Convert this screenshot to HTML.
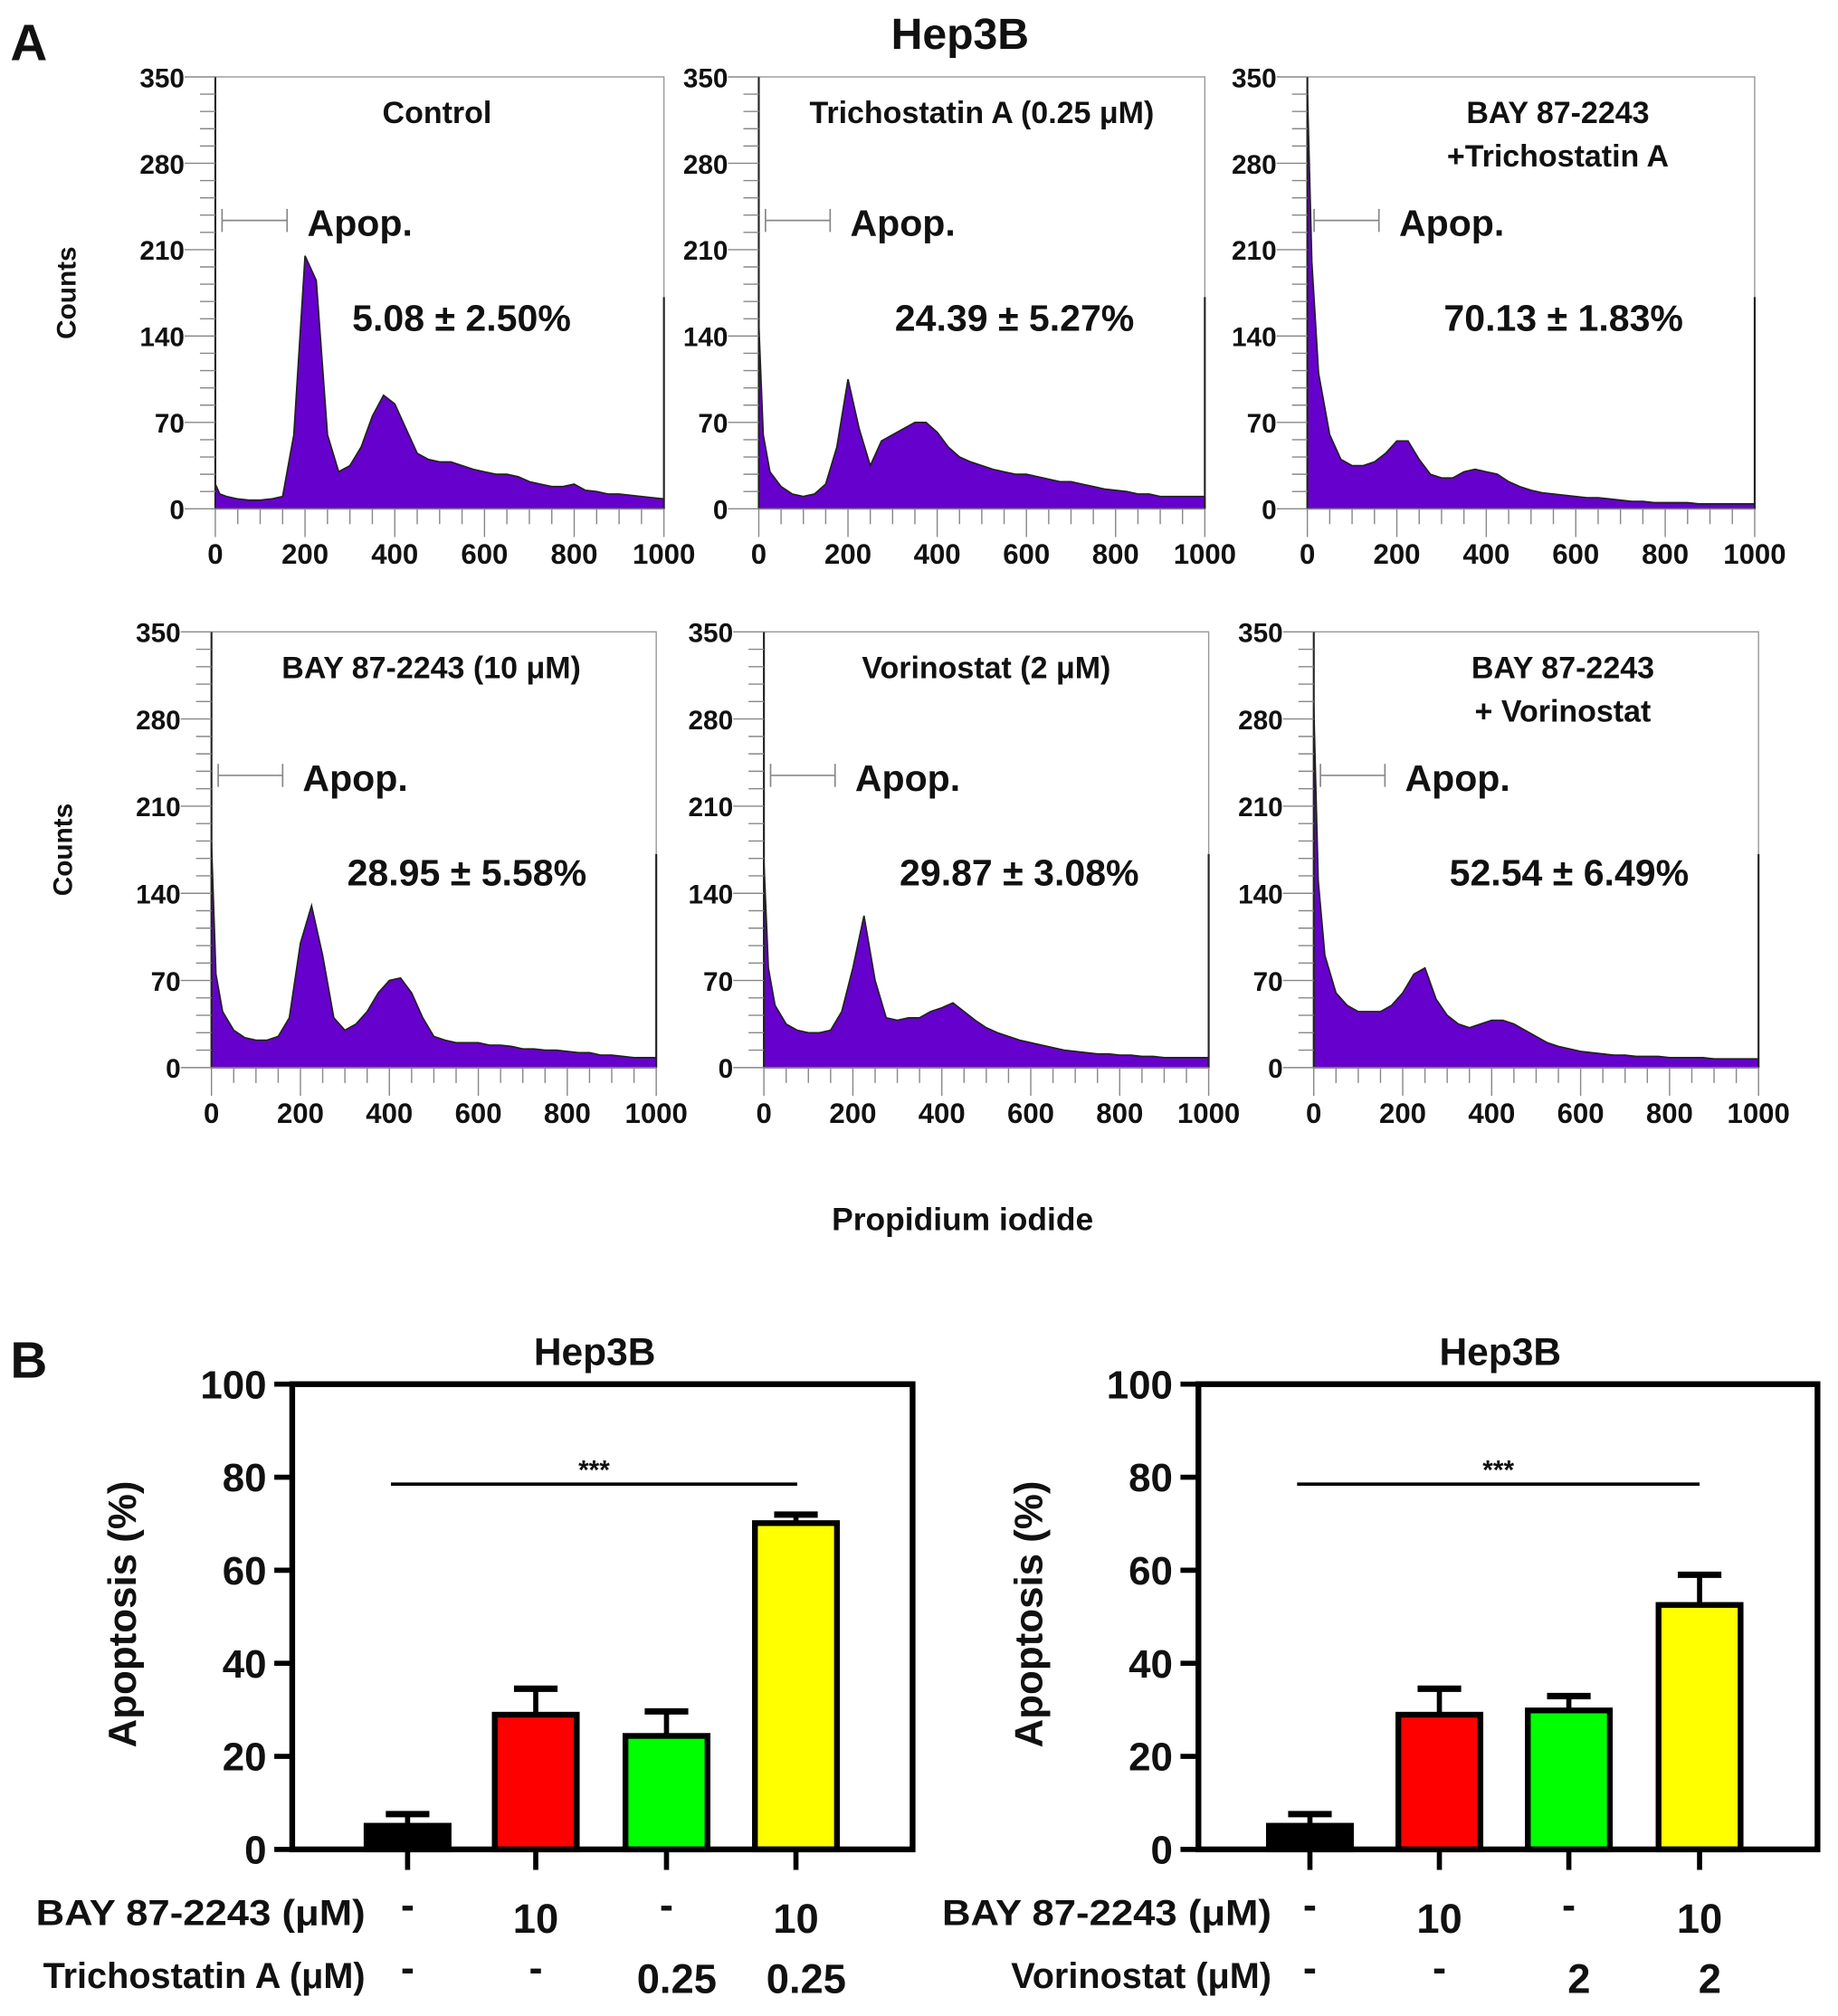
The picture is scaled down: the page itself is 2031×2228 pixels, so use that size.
<!DOCTYPE html>
<html><head><meta charset="utf-8"><style>
html,body{margin:0;padding:0;background:#fff}
svg{display:block}
text{font-family:"Liberation Sans",Arial,sans-serif;font-weight:bold;fill:#111}
</style></head><body>
<svg id="fig" width="2031" height="2228" viewBox="0 0 1434 1573" preserveAspectRatio="none">
<text x="8" y="47" font-size="40">A</text>
<text x="749" y="38" font-size="34" text-anchor="middle">Hep3B</text>
<text x="751" y="960" font-size="25" text-anchor="middle">Propidium iodide</text>
<text x="8" y="1075" font-size="40">B</text>
<g id="hists"></g>
<g id="bars"></g>
</svg>
<script>
const NS="http://www.w3.org/2000/svg";
const histX=[0,10,25,50,75,100,125,150,175,200,225,250,275,300,325,350,375,400,425,450,475,500,525,550,575,600,625,650,675,700,725,750,775,800,825,850,875,900,925,950,975,1000];
const histControl=[20,12,10,8,7,7,8,10,60,205,185,60,30,35,50,75,92,85,65,45,40,38,38,35,32,30,28,28,26,22,20,18,18,20,15,14,12,12,11,10,9,8];
const histTSA=[150,60,30,18,12,10,12,20,50,105,65,35,55,60,65,70,70,62,50,42,38,35,32,30,28,28,26,24,22,22,20,18,16,15,14,12,12,10,10,10,10,10];
const histBayTSA=[340,200,110,60,40,35,35,38,45,55,55,40,28,25,25,30,32,30,28,22,18,15,13,12,11,10,9,9,8,7,6,6,5,5,5,5,4,4,4,4,4,4];
const histBay=[180,75,45,30,24,22,22,25,40,100,130,90,40,30,35,45,60,70,72,60,40,25,22,20,20,20,18,18,17,15,15,14,14,13,12,12,10,10,9,8,8,8];
const histVor=[165,80,50,35,30,28,28,30,45,80,122,70,40,38,40,40,45,48,52,45,38,32,28,25,22,20,18,16,14,13,12,11,11,10,10,9,9,8,8,8,8,8];
const histBayVor=[290,150,90,60,50,45,45,45,50,60,75,80,55,42,35,32,35,38,38,35,30,25,20,17,15,13,12,11,10,10,9,9,9,8,8,8,8,7,7,7,7,7];
const histTitles=[["Control"],["Trichostatin A  (0.25 μM)"],["BAY 87-2243","+Trichostatin A"],["BAY 87-2243  (10 μM)"],["Vorinostat  (2 μM)"],["BAY 87-2243","+ Vorinostat"]];
const histPct=["5.08 ± 2.50%","24.39 ± 5.27%","70.13 ± 1.83%","28.95 ± 5.58%","29.87 ± 3.08%","52.54 ± 6.49%"];
const yTicks=[0,70,140,210,280,350];
const xTicks=[0,200,400,600,800,1000];
const histSeries=[histControl,histTSA,histBayTSA,histBay,histVor,histBayVor];
const panels=[{x0:168,x1:518,y0:397,y1:60},{x0:592,x1:940,y0:397,y1:60},{x0:1020,x1:1369,y0:397,y1:60},
{x0:165,x1:512,y0:833,y1:493},{x0:596,x1:943,y0:833,y1:493},{x0:1025,x1:1372,y0:833,y1:493}];
function mk(tag,attrs,parent){const e=document.createElementNS(NS,tag);for(const k in attrs)e.setAttribute(k,attrs[k]);parent.appendChild(e);return e;}
const H=document.getElementById('hists');
panels.forEach((p,i)=>{
  const g=mk('g',{},H);
  
  
  const sx=v=>p.x0+(p.x1-p.x0)*v/1000, sy=v=>p.y0-(p.y0-p.y1)*Math.min(v,350)/350;
  const box=mk('rect',{x:p.x0,y:p.y1,width:p.x1-p.x0,height:p.y0-p.y1,fill:'none',stroke:'#999','stroke-width':1},g);
  
  
  const d=histSeries[i];
  let pts=sx(0)+','+sy(0)+' ';
  histX.forEach((x,j)=>{pts+=sx(x)+','+sy(d[j])+' ';});
  pts+=sx(1000)+','+sy(0);
  const poly=mk('polygon',{points:pts,fill:'#6600cc',stroke:'#222','stroke-width':1.2},g);
  
  
  mk('line',{x1:p.x0,y1:p.y0,x2:p.x0,y2:p.y1,stroke:'#222','stroke-width':1.5},g);
  mk('line',{x1:p.x1,y1:p.y0,x2:p.x1,y2:p.y0-(p.y0-p.y1)*0.49,stroke:'#222','stroke-width':1.5},g);
  mk('line',{x1:p.x0,y1:p.y0,x2:p.x1,y2:p.y0,stroke:'#888','stroke-width':1},g);
  for(let v=0;v<=350;v+=14){const y=sy(v);const major=v%70===0;mk('line',{x1:p.x0-(major?24:12),y1:y,x2:p.x0,y2:y,stroke:'#888','stroke-width':1},g);}
  yTicks.forEach(v=>{const t=mk('text',{x:p.x0-24,y:sy(v)+8,'font-size':21,'text-anchor':'end'},g);t.textContent=v;
    });
  for(let v=0;v<=1000;v+=50){const x=sx(v);const major=v%200===0;mk('line',{x1:x,y1:p.y0,x2:x,y2:p.y0+(major?22:12),stroke:'#888','stroke-width':1},g);}
  xTicks.forEach(v=>{const t=mk('text',{x:sx(v),y:p.y0+43,'font-size':22,'text-anchor':'middle'},g);t.textContent=v;
    });
  const cx=(p.x0+p.x1)/2+(i%3===0?-2:0);
  const lines=histTitles[i];
  lines.forEach((s,k)=>{const t=mk('text',{x:(lines.length>1?p.x0+(p.x1-p.x0)*0.56:cx),y:p.y1+36+k*34,'font-size':24,'text-anchor':'middle'},g);t.textContent=s;
    });
  const gy=p.y1+112;
  mk('line',{x1:sx(15),y1:gy,x2:sx(160),y2:gy,stroke:'#888','stroke-width':1.2},g);
  mk('line',{x1:sx(15),y1:gy-9,x2:sx(15),y2:gy+9,stroke:'#888','stroke-width':1.2},g);
  mk('line',{x1:sx(160),y1:gy-9,x2:sx(160),y2:gy+9,stroke:'#888','stroke-width':1.2},g);
  const a=mk('text',{x:sx(205),y:gy+12,'font-size':29},g);a.textContent='Apop.';
  
  const pc=mk('text',{x:sx(305),y:p.y1+198,'font-size':29},g);pc.textContent=histPct[i];
  
  if(i%3===0){const c=mk('text',{x:0,y:0,'font-size':21,'text-anchor':'middle',transform:`translate(${p.x0-109},${(p.y0+p.y1)/2}) rotate(-90)`},g);c.textContent='Counts';
    }
});

// bar charts
const barValsTSA=[5.08,28.95,24.39,70.13];
const barErrTSA=[2.5,5.58,5.27,1.83];
const barValsVor=[5.08,28.95,29.87,52.54];
const barErrVor=[2.5,5.58,3.08,6.49];
const barColors=['#000000','#ff0000','#00ff00','#ffff00'];
const barTicks=[0,20,40,60,80,100];
const rowBay=['-','10','-','10'];
const rowTSA=['-','-','0.25','0.25'];
const rowVor=['-','-','2','2'];
const charts=[{x0:228,x1:712,vals:barValsTSA,err:barErrTSA,centers:[318,418,520,621],lab2:'Trichostatin A (μM)',row2:rowTSA,labX:285,sig:[305,622]},
{x0:935,x1:1418,vals:barValsVor,err:barErrVor,centers:[1022,1123,1224,1326],lab2:'Vorinostat (μM)',row2:rowVor,labX:992,sig:[1012,1326]}];
const B=document.getElementById('bars');
const yb0=1443,yb1=1080;
charts.forEach((c,ci)=>{
  const g=mk('g',{},B);
  
  
  const sy=v=>yb0-(yb0-yb1)*v/100;
  const t=mk('text',{x:(c.x0+c.x1)/2-6,y:1065,'font-size':30,'text-anchor':'middle'},g);t.textContent='Hep3B';
  
  c.vals.forEach((v,k)=>{const cx=c.centers[k];
    mk('line',{x1:cx,y1:sy(v),x2:cx,y2:sy(v+c.err[k]),stroke:'#000','stroke-width':4},g);
    mk('line',{x1:cx-17,y1:sy(v+c.err[k]),x2:cx+17,y2:sy(v+c.err[k]),stroke:'#000','stroke-width':5},g);
    const r=mk('rect',{x:cx-32,y:sy(v),width:64,height:sy(0)-sy(v),fill:barColors[k],stroke:'#000','stroke-width':4.5},g);
    
    mk('line',{x1:cx,y1:yb0,x2:cx,y2:yb0+16,stroke:'#000','stroke-width':4},g);
  });
  const f=mk('rect',{x:c.x0,y:yb1,width:c.x1-c.x0,height:yb0-yb1,fill:'none',stroke:'#000','stroke-width':4.5},g);
  
  barTicks.forEach(v=>{mk('line',{x1:c.x0-14,y1:sy(v),x2:c.x0,y2:sy(v),stroke:'#000','stroke-width':4},g);
    const tt=mk('text',{x:c.x0-20,y:sy(v)+11,'font-size':31,'text-anchor':'end'},g);tt.textContent=v;
    });
  const yt=mk('text',{x:0,y:0,'font-size':31,'text-anchor':'middle',transform:`translate(${c.x0-122},${(yb0+yb1)/2-2}) rotate(-90)`},g);yt.textContent='Apoptosis (%)';
  
  mk('line',{x1:c.sig[0],y1:1158,x2:c.sig[1],y2:1158,stroke:'#000','stroke-width':2.5},g);
  const s=mk('text',{x:(c.sig[0]+c.sig[1])/2,y:1154,'font-size':21,'text-anchor':'middle'},g);s.textContent='***';
  
  const l1=mk('text',{x:c.labX,y:1502,'font-size':28,'text-anchor':'end',textLength:257,lengthAdjust:'spacingAndGlyphs'},g);l1.textContent='BAY 87-2243 (μM)';
  
  const l2=mk('text',{x:c.labX,y:1551,'font-size':28,'text-anchor':'end'},g);l2.textContent=c.lab2;
  
  c.centers.forEach((cx,k)=>{
    const a=mk('text',{x:cx,y:rowBay[k]==='-'?1497:1508,'font-size':rowBay[k]==='-'?32:32,'text-anchor':'middle'},g);a.textContent=rowBay[k];
    
    const b=mk('text',{x:cx+(c.row2[k]==='-'?0:8),y:c.row2[k]==='-'?1546:1555,'font-size':32,'text-anchor':'middle'},g);b.textContent=c.row2[k];
    
  });
});
</script>
</body></html>
